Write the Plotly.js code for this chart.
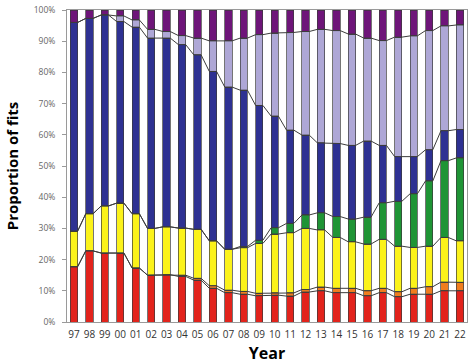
<!DOCTYPE html>
<html>
<head>
<meta charset="utf-8">
<script src="https://cdn.plot.ly/plotly-3.0.1.min.js"></script>
<style>html,body{margin:0;padding:0;background:#fff;}#chart{width:474px;height:364px;}</style>
</head>
<body>
<div id="chart"></div>
<script>
// Category labels (years)
const years = ['97','98','99','00','01','02','03','04','05','06','07','08','09','10','11','12','13','14','15','16','17','18','19','20','21','22'];

// Segment shares (% of fits), bottom to top
const red      = [17.7,22.8,22.1,22.1,17.3,15.0,15.2,14.6,13.4,10.8,9.4,8.9,8.4,8.6,8.3,9.6,10.0,9.4,9.4,8.4,9.4,8.1,8.9,8.9,10.0,10.0];
const orange   = [0,0,0,0,0,0,0,0.4,0.6,0.8,0.8,0.9,0.8,0.8,1.0,0.8,1.2,1.4,1.4,1.6,1.4,1.6,1.9,2.4,2.8,2.7];
const yellow   = [11.4,11.9,15.1,16.0,17.4,15.0,15.3,15.1,15.7,14.4,13.1,14.0,16.0,18.8,19.3,19.6,18.3,16.3,14.9,15.0,15.7,14.6,13.1,13.0,14.3,13.3];
const green    = [0,0,0,0,0,0,0,0,0,0,0,0.4,1.0,2.0,3.0,4.3,5.5,6.7,7.3,8.6,11.7,14.4,17.2,20.9,24.6,26.6];
const blue     = [66.9,62.6,61.2,58.2,59.8,61.0,60.5,58.8,55.9,54.3,52.0,50.1,43.2,35.8,29.9,25.6,22.4,23.4,23.6,24.4,18.4,14.3,11.9,10.0,9.6,9.1];
const lavender = [0,0,0,1.8,2.3,2.8,2.1,2.9,5.4,9.8,14.8,16.7,22.7,26.6,31.3,33.2,36.4,36.2,35.7,33.0,33.6,38.3,38.7,38.2,33.6,33.5];
const purple   = [4.0,2.7,1.6,1.9,3.2,6.2,6.9,8.2,9.0,9.9,9.9,9.0,7.9,7.4,7.2,6.9,6.2,6.6,7.7,9.0,9.8,8.7,8.3,6.6,5.1,4.8];

const series = [red, orange, yellow, green, blue, lavender, purple];
const colors = ['#e2231c', '#f07d1e', '#fbf21a', '#1f9435', '#2e3192', '#aea7d6', '#6e1579'];

const BAR_W = 0.47;
const xs = years.map((_, i) => i);

// normalise to 100% per year
const totals = xs.map(i => series.reduce((s, a) => s + a[i], 0));
const norm = series.map(a => a.map((v, i) => v / totals[i] * 100));

const traces = [];
norm.forEach((vals, k) => {
  traces.push({
    type: 'bar', x: xs, y: vals, width: BAR_W,
    marker: {color: colors[k], line: {color: '#3a3a3a', width: 0.7}},
    hoverinfo: 'skip'
  });
});

// series lines connecting the tops of each layer
let cum = xs.map(() => 0);
for (let k = 0; k < norm.length - 1; k++) {
  cum = cum.map((c, i) => c + norm[k][i]);
  const lx = [], ly = [];
  xs.forEach((x, i) => { lx.push(x - BAR_W / 2, x + BAR_W / 2); ly.push(cum[i], cum[i]); });
  traces.push({
    type: 'scatter', mode: 'lines', x: lx, y: ly,
    line: {color: '#3c3c3c', width: 1}, hoverinfo: 'skip'
  });
}

const layout = {
  width: 474, height: 364,
  margin: {l: 67, r: 7, t: 10, b: 42},
  paper_bgcolor: '#ffffff', plot_bgcolor: '#ffffff',
  barmode: 'stack', showlegend: false,
  xaxis: {
    range: [-0.45, 25.45], tickmode: 'array', tickvals: xs, ticktext: years,
    showline: true, linecolor: '#9a9a9a', linewidth: 1, mirror: true,
    showgrid: false, zeroline: false, ticks: '', ticklabelstandoff: 3,
    tickfont: {family: 'Open Sans, sans-serif', size: 10, color: '#333'},
    title: {text: 'Year', standoff: 7, font: {family: 'Open Sans, sans-serif', size: 16, color: '#000', weight: 'bold'}},
    automargin: false, fixedrange: true
  },
  yaxis: {
    range: [0, 100], tickmode: 'array',
    tickvals: [0,10,20,30,40,50,60,70,80,90,100],
    ticktext: ['0%','10%','20%','30%','40%','50%','60%','70%','80%','90%','100%'],
    showline: true, linecolor: '#9a9a9a', linewidth: 1, mirror: true,
    showgrid: false, zeroline: false, ticks: 'outside', ticklen: 4, tickcolor: '#9a9a9a',
    ticklabelstandoff: 5,
    tickfont: {family: 'Open Sans, sans-serif', size: 8.5, color: '#666'},
    title: {text: 'Proportion of fits', standoff: 11, font: {family: 'Open Sans, sans-serif', size: 15, color: '#000', weight: 'bold'}},
    automargin: false, fixedrange: true
  }
};

Plotly.newPlot('chart', traces, layout, {displayModeBar: false, staticPlot: true});
</script>
</body>
</html>
